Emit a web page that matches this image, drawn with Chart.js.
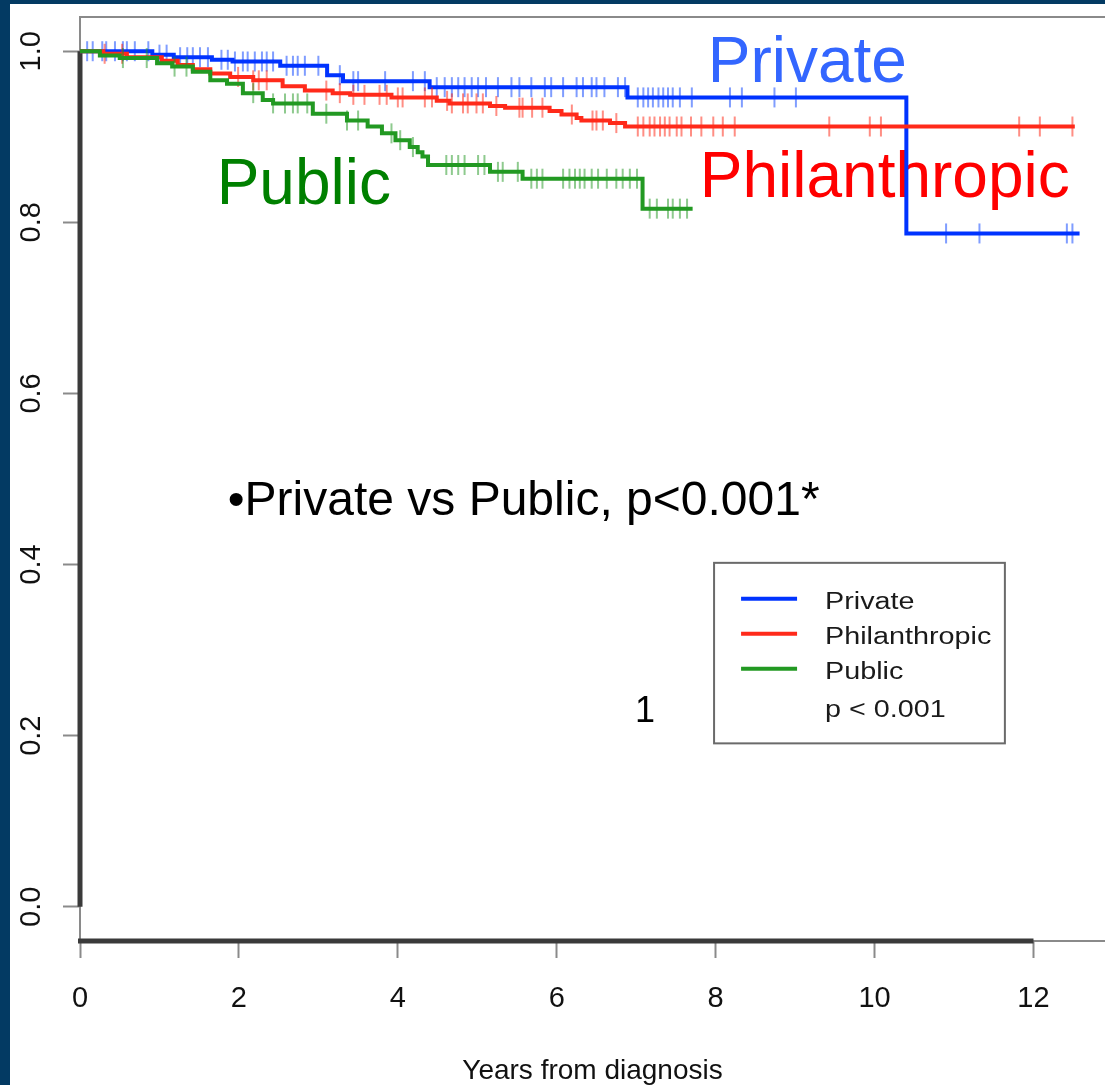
<!DOCTYPE html>
<html>
<head>
<meta charset="utf-8">
<title>Survival by hospital type</title>
<script src="https://cdn.jsdelivr.net/npm/chart.js@4.4.1/dist/chart.umd.min.js"></script>
<style>
  html, body { margin: 0; padding: 0; background: #033a63; }
  #wrap { position: absolute; left: 10px; top: 4px; width: 1095px; height: 1081px; background: #fff; }
  canvas { display: block; }
</style>
</head>
<body>
<div id="wrap"><canvas id="kmChart" width="1095" height="1081"></canvas></div>
<script>
// axis ticks
const xTicks = [0, 2, 4, 6, 8, 10, 12];
const yTicks = [0, 0.2, 0.4, 0.6, 0.8, 1.0];

// Private: step times (years) and survival after each step
const privateTimes = [0, 0.91, 1.18, 1.66, 1.92, 2.52, 3.11, 3.31, 4.40, 6.89, 10.40, 12.58];
const privateSurv  = [1.0, 0.996, 0.993, 0.990, 0.988, 0.983, 0.972, 0.965, 0.958, 0.946, 0.787, 0.787];
const privateCensored = [0.09, 0.16, 0.28, 0.33, 0.44, 0.54, 0.59, 0.69, 0.86, 1.0, 1.09, 1.26, 1.35, 1.42, 1.51, 1.61,
  1.78, 1.86, 1.95, 2.05, 2.11, 2.2, 2.29, 2.35, 2.43, 2.6, 2.68, 2.74, 2.83, 3.0, 3.27, 3.44, 3.5, 3.84, 4.19, 4.34,
  4.49, 4.59, 4.68, 4.76, 4.84, 4.93, 5.01, 5.11, 5.26, 5.43, 5.53, 5.68, 5.85, 5.93, 6.08, 6.25, 6.33, 6.44, 6.5, 6.6,
  6.77, 6.86, 7.02, 7.09, 7.15, 7.21, 7.28, 7.34, 7.4, 7.46, 7.55, 7.7, 8.18, 8.33, 8.74, 9.01, 10.9, 11.32, 12.42, 12.49];

// Philanthropic
const philTimes = [0, 0.29, 0.59, 1.03, 1.23, 1.42, 1.64, 1.89, 2.18, 2.55, 2.83, 3.18, 3.40, 3.92, 4.49, 4.65, 5.16,
  5.35, 5.91, 6.06, 6.25, 6.31, 6.67, 6.86, 12.52];
const philSurv = [1.0, 0.997, 0.993, 0.989, 0.984, 0.979, 0.974, 0.970, 0.966, 0.959, 0.954, 0.951, 0.949, 0.946, 0.942,
  0.939, 0.936, 0.934, 0.930, 0.926, 0.922, 0.919, 0.916, 0.912, 0.912];
const philCensored = [0.31, 0.53, 1.99, 2.18, 2.25, 2.35, 3.1, 3.27, 3.44, 3.58, 3.77, 3.86, 4.0, 4.06, 4.34, 4.43, 4.62,
  4.68, 4.82, 4.88, 4.99, 5.07, 5.24, 5.53, 5.57, 5.69, 5.82, 6.19, 6.45, 6.5, 6.58, 6.75, 7.02, 7.09, 7.17, 7.23, 7.3,
  7.36, 7.42, 7.51, 7.57, 7.69, 7.82, 7.97, 8.09, 8.24, 9.43, 9.94, 10.08, 11.82, 12.08, 12.49];

// Public
const pubTimes = [0, 0.25, 0.50, 0.97, 1.16, 1.42, 1.64, 1.85, 2.05, 2.30, 2.43, 2.93, 3.36, 3.62, 3.80, 3.97, 4.15,
  4.25, 4.31, 4.38, 5.16, 5.57, 7.08, 7.71];
const pubSurv = [1.0, 0.995, 0.992, 0.986, 0.982, 0.976, 0.966, 0.962, 0.951, 0.943, 0.939, 0.927, 0.919, 0.912, 0.904,
  0.896, 0.888, 0.882, 0.877, 0.867, 0.859, 0.851, 0.816, 0.816];
const pubCensored = [0.54, 0.84, 1.19, 1.34, 2.18, 2.43, 2.58, 2.68, 2.74, 2.86, 3.1, 3.36, 3.5, 3.92, 4.03, 4.19, 4.61,
  4.68, 4.76, 4.84, 5.01, 5.09, 5.26, 5.32, 5.51, 5.68, 5.75, 5.82, 6.08, 6.16, 6.23, 6.29, 6.35, 6.44, 6.52, 6.63, 6.75,
  6.83, 6.92, 7.01, 7.17, 7.26, 7.4, 7.46, 7.55, 7.64];

const FONT = "'Liberation Sans', Arial, sans-serif";

// text placed on the plot, anchored in data units
const notes = [
  { text: "Private", x: 7.90, y: 0.964, color: "#3366ff", size: 64, align: "left" },
  { text: "Philanthropic", x: 7.80, y: 0.8295, color: "#ff0000", size: 64, align: "left" },
  { text: "Public", x: 1.72, y: 0.822, color: "#008000", size: 64, align: "left" },
  { text: "\u2022Private vs Public, p<0.001*", x: 1.86, y: 0.458, color: "#000000", size: 48, align: "left" },
  { text: "1", x: 7.11, y: 0.227, color: "#000000", size: 36, align: "center" }
];

function survAt(times, surv, t) {
  let s = surv[0];
  for (let i = 0; i < times.length; i++) {
    if (times[i] <= t) s = surv[i];
  }
  return s;
}

function stepLine(label, times, surv, color) {
  return {
    type: "line",
    label: label,
    data: times.map((t, i) => ({ x: t, y: surv[i] })),
    borderColor: color,
    borderWidth: 4,
    stepped: "before",
    pointRadius: 0,
    fill: false
  };
}

function censorMarks(label, times, surv, cens, color) {
  return {
    type: "scatter",
    label: label + " censored",
    data: cens.map(t => ({ x: t, y: survAt(times, surv, t) })),
    pointStyle: "line",
    rotation: 90,
    pointRadius: 10,
    pointBorderWidth: 2,
    borderColor: color,
    backgroundColor: color,
    showLine: false
  };
}

const legendItems = [
  { label: "Private", color: "#0033ff" },
  { label: "Philanthropic", color: "#ff2a1a" },
  { label: "Public", color: "#229922" }
];

function drawWide(ctx, text, px, py) {
  ctx.save();
  ctx.translate(px, py);
  ctx.scale(1.25, 1);
  ctx.fillStyle = "#1a1a1a";
  ctx.fillText(text, 0, 0);
  ctx.restore();
}

const decor = {
  id: "kmDecor",
  beforeDatasetsDraw(chart) {
    const { ctx, chartArea: a, scales: { x, y } } = chart;
    ctx.save();
    // top of the box
    ctx.strokeStyle = "#8a8a8a";
    ctx.lineWidth = 2;
    ctx.beginPath();
    ctx.moveTo(a.left, a.top);
    ctx.lineTo(a.right, a.top);
    ctx.stroke();
    // heavy axis lines between first and last tick
    ctx.strokeStyle = "#3a3a3a";
    ctx.lineWidth = 5;
    ctx.beginPath();
    ctx.moveTo(a.left, y.getPixelForValue(yTicks[0]));
    ctx.lineTo(a.left, y.getPixelForValue(yTicks[yTicks.length - 1]));
    ctx.stroke();
    ctx.beginPath();
    ctx.moveTo(x.getPixelForValue(xTicks[0]) - 2, a.bottom);
    ctx.lineTo(x.getPixelForValue(xTicks[xTicks.length - 1]), a.bottom);
    ctx.stroke();
    // annotations
    notes.forEach(n => {
      ctx.font = n.size + "px " + FONT;
      ctx.fillStyle = n.color;
      ctx.textAlign = n.align;
      ctx.textBaseline = n.align === "center" ? "middle" : "alphabetic";
      ctx.fillText(n.text, x.getPixelForValue(n.x), y.getPixelForValue(n.y));
    });
    ctx.restore();
  },
  afterDraw(chart) {
    const { ctx, scales: { x, y } } = chart;
    const left = x.getPixelForValue(7.98), right = x.getPixelForValue(11.64);
    const top = y.getPixelForValue(0.402), bottom = y.getPixelForValue(0.191);
    ctx.save();
    ctx.fillStyle = "#fff";
    ctx.fillRect(left, top, right - left, bottom - top);
    ctx.strokeStyle = "#6a6a6a";
    ctx.lineWidth = 2;
    ctx.strokeRect(left, top, right - left, bottom - top);
    const rows = [36, 71, 106];
    ctx.font = "23px " + FONT;
    ctx.textBaseline = "middle";
    ctx.textAlign = "left";
    legendItems.forEach((it, i) => {
      ctx.strokeStyle = it.color;
      ctx.lineWidth = 4;
      ctx.beginPath();
      ctx.moveTo(left + 27, top + rows[i]);
      ctx.lineTo(left + 83, top + rows[i]);
      ctx.stroke();
      drawWide(ctx, it.label, left + 111, top + rows[i] + 4);
    });
    drawWide(ctx, "p < 0.001", left + 111, top + 148);
    ctx.restore();
  }
};

const ctx = document.getElementById("kmChart").getContext("2d");
new Chart(ctx, {
  data: {
    datasets: [
      stepLine("Public", pubTimes, pubSurv, "#229922"),
      censorMarks("Public", pubTimes, pubSurv, pubCensored, "rgba(30,150,30,0.5)"),
      stepLine("Philanthropic", philTimes, philSurv, "#ff2a1a"),
      censorMarks("Philanthropic", philTimes, philSurv, philCensored, "rgba(255,30,10,0.5)"),
      stepLine("Private", privateTimes, privateSurv, "#0033ff"),
      censorMarks("Private", privateTimes, privateSurv, privateCensored, "rgba(0,60,255,0.5)")
    ]
  },
  options: {
    responsive: false,
    animation: false,
    devicePixelRatio: 1,
    layout: { autoPadding: false, padding: { top: 13, right: 0, left: 0, bottom: 0 } },
    plugins: { legend: { display: false }, tooltip: { enabled: false } },
    scales: {
      x: {
        type: "linear",
        min: 0,
        max: 12.9,
        afterBuildTicks: s => { s.ticks = xTicks.map(v => ({ value: v })); },
        afterFit: s => { s.height = 144; s.paddingLeft = 0; s.paddingRight = 0; },
        ticks: { padding: 24, maxRotation: 0, color: "#111", font: { family: FONT, size: 29 } },
        grid: { drawOnChartArea: false, drawTicks: true, tickLength: 17, tickColor: "#8a8a8a", tickWidth: 2 },
        border: { display: true, color: "#8a8a8a", width: 2 },
        title: {
          display: true,
          text: "Years from diagnosis",
          color: "#111",
          font: { family: FONT, size: 28, lineHeight: 1 },
          padding: { top: 0, bottom: 0 }
        }
      },
      y: {
        type: "linear",
        min: -0.04,
        max: 1.04,
        afterBuildTicks: s => { s.ticks = yTicks.map(v => ({ value: v })); },
        afterFit: s => { s.width = 70; s.paddingTop = 0; s.paddingBottom = 0; },
        ticks: {
          minRotation: 90,
          maxRotation: 90,
          crossAlign: "center",
          padding: 11,
          color: "#111",
          font: { family: FONT, size: 29 },
          callback: v => v.toFixed(1)
        },
        grid: { drawOnChartArea: false, drawTicks: true, tickLength: 17, tickColor: "#8a8a8a", tickWidth: 2 },
        border: { display: true, color: "#8a8a8a", width: 2 }
      }
    }
  },
  plugins: [decor]
});
</script>
</body>
</html>
